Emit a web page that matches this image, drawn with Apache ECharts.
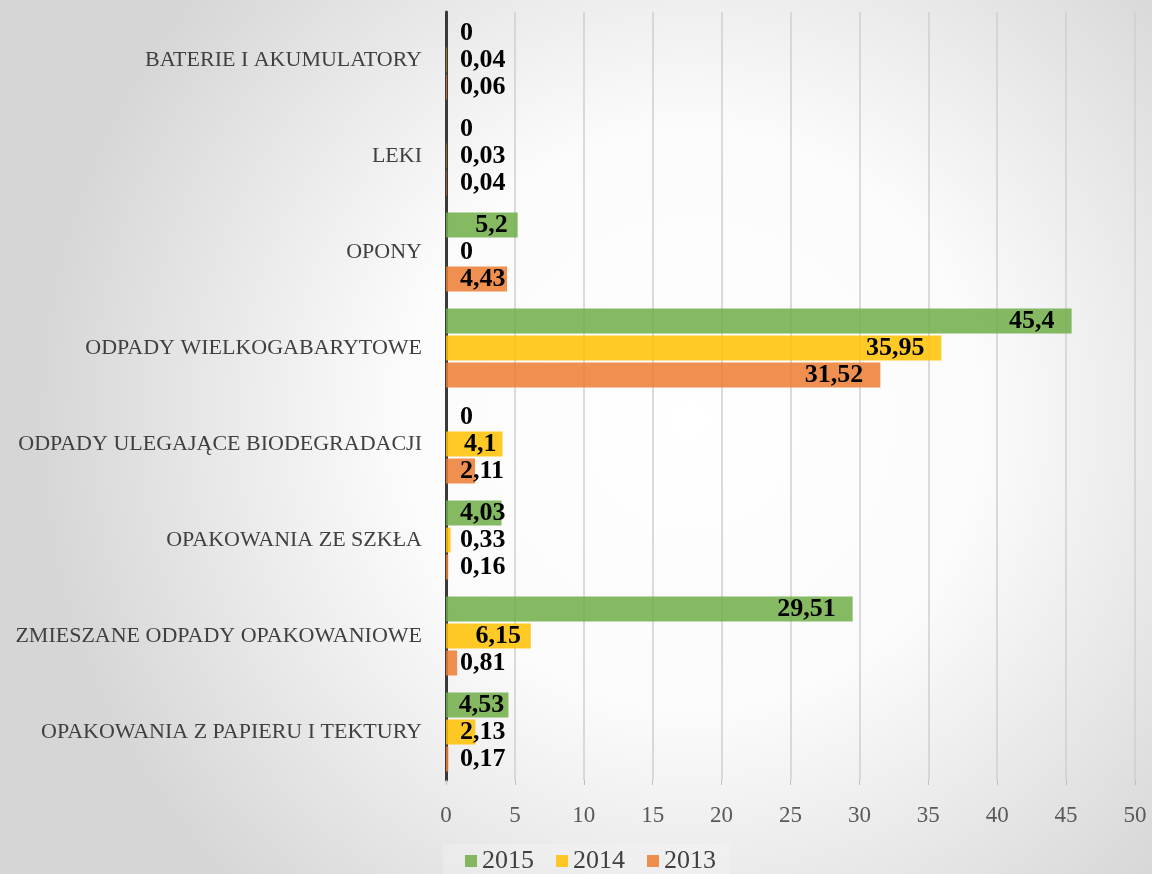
<!DOCTYPE html>
<html>
<head>
<meta charset="utf-8">
<script src="https://cdn.jsdelivr.net/npm/echarts@6/dist/echarts.min.js"></script>
<style>
  html, body { margin: 0; padding: 0; }
  #chart { width: 1152px; height: 874px; }
</style>
</head>
<body>
<div id="chart"></div>
<script>
// kategorie (od dołu do góry)
const categories = [
  'OPAKOWANIA Z PAPIERU I TEKTURY',
  'ZMIESZANE ODPADY OPAKOWANIOWE',
  'OPAKOWANIA ZE SZKŁA',
  'ODPADY ULEGAJĄCE BIODEGRADACJI',
  'ODPADY WIELKOGABARYTOWE',
  'OPONY',
  'LEKI',
  'BATERIE I AKUMULATORY'
];
const years = ['2015', '2014', '2013'];
const values2015 = [4.53, 29.51, 4.03, 0, 45.4, 5.2, 0, 0];
const values2014 = [2.13, 6.15, 0.33, 4.1, 35.95, 0, 0.03, 0.04];
const values2013 = [0.17, 0.81, 0.16, 2.11, 31.52, 4.43, 0.04, 0.06];
const xTicks = [0, 5, 10, 15, 20, 25, 30, 35, 40, 45, 50];

const FONT = '"Liberation Serif", "DejaVu Serif", serif';
const LABEL_SIZE = 26;
const gridLeft = 446, gridRight = 17;
const pxPerUnit = (1152 - gridLeft - gridRight) / 50;

// pomiar szerokości etykiety
const ctx = document.createElement('canvas').getContext('2d');
ctx.font = 'bold ' + LABEL_SIZE + 'px ' + FONT;
const fmt = v => String(v).replace('.', ',');

// etykieta w środku na końcu słupka, albo od osi gdy się nie mieści
function buildData(arr) {
  return arr.map(v => {
    const w = ctx.measureText(fmt(v)).width;
    const barPx = v * pxPerUnit;
    const fits = barPx >= w + 16;
    const dist = Math.min(17, Math.max(2, (barPx - w) / 4));
    return {
      value: v,
      label: fits ? { position: 'insideRight', distance: dist } : { position: 'insideLeft', distance: 14 }
    };
  });
}

const chart = echarts.init(document.getElementById('chart'));

const labelStyle = {
  show: true,
  color: '#000',
  fontFamily: FONT,
  fontWeight: 'bold',
  fontSize: LABEL_SIZE,
  formatter: p => fmt(p.value)
};

chart.setOption({
  backgroundColor: {
    type: 'radial', x: 0.6, y: 0.48, r: 0.75,
    colorStops: [
      { offset: 0, color: '#ffffff' },
      { offset: 0.45, color: '#fbfbfb' },
      { offset: 1, color: '#d6d6d6' }
    ]
  },
  animation: false,
  grid: { left: gridLeft, right: gridRight, top: 12, bottom: 94, containLabel: false },
  legend: {
    data: years,
    top: 844,
    left: 443,
    itemWidth: 12,
    itemHeight: 12,
    itemGap: 22,
    icon: 'rect',
    backgroundColor: 'rgba(255,255,255,0.2)',
    padding: [4, 14, 4, 22],
    textStyle: { fontFamily: FONT, fontSize: 26, color: '#404040' }
  },
  xAxis: {
    type: 'value',
    min: 0,
    max: 50,
    interval: 5,
    axisLine: { show: false },
    axisTick: { show: true, length: 5, lineStyle: { color: '#bfbfbf' } },
    splitLine: { show: true, lineStyle: { color: '#cfcfcf', width: 1.5 } },
    axisLabel: {
      fontFamily: FONT, fontSize: 23, color: '#595959', margin: 24,
      formatter: v => xTicks.includes(v) ? String(v) : ''
    }
  },
  yAxis: {
    type: 'category',
    data: categories,
    axisLine: { show: true, lineStyle: { color: '#3a3a3a', width: 3 } },
    axisTick: { show: false },
    axisLabel: { fontFamily: FONT, fontSize: 22, color: '#404040', margin: 24 }
  },
  series: [
    {
      name: '2015', type: 'bar', data: buildData(values2015),
      barWidth: 25, barGap: '8%',
      itemStyle: { color: 'rgba(112,173,71,0.85)' },
      label: labelStyle
    },
    {
      name: '2014', type: 'bar', data: buildData(values2014),
      barWidth: 25, barGap: '8%',
      itemStyle: { color: 'rgba(255,192,0,0.85)' },
      label: labelStyle
    },
    {
      name: '2013', type: 'bar', data: buildData(values2013),
      barWidth: 25, barGap: '8%',
      itemStyle: { color: 'rgba(237,125,49,0.85)' },
      label: labelStyle
    }
  ]
});
</script>
</body>
</html>
